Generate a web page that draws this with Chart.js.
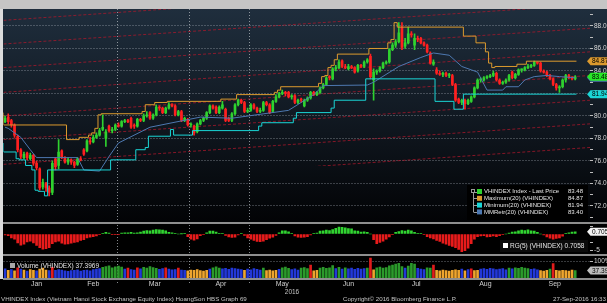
<!DOCTYPE html>
<html>
<head>
<meta charset="utf-8">
<title>VHINDEX</title>
<script src="https://cdn.jsdelivr.net/npm/chart.js@4.4.1/dist/chart.umd.min.js"></script>
<style>
  body { margin: 0; background: #000; }
  canvas { display: block; }
</style>
</head>
<body>
<canvas id="vhChart" width="607" height="303"></canvas>
<script>
// VHINDEX daily bars, 4 Jan - 27 Sep 2016 (trading days, index 0..181)
const opens = [
  79.5, 79.9, 79.6, 79.2, 78.2, 77.0, 76.3, 76.7, 76.2, 76.5,
  75.8, 75.3, 73.7, 74.0, 73.6, 73.2, 76.2, 75.6, 76.9, 76.3,
  75.9, 76.1, 75.9, 75.7, 76.2, 77.0, 76.9, 77.8, 77.7, 78.1,
  78.3, 78.8, 78.0, 79.1, 78.7, 78.8, 79.2, 79.1, 79.5, 79.6,
  79.8, 79.2, 79.1, 79.7, 79.6, 80.0, 80.3, 79.8, 80.1, 80.8,
  80.7, 80.3, 80.7, 81.0, 80.9, 80.1, 80.4, 79.6, 79.7, 79.2,
  79.1, 78.6, 79.3, 79.6, 79.8, 80.3, 80.9, 80.8, 80.3, 80.7,
  80.6, 79.8, 79.6, 80.2, 81.0, 81.4, 81.2, 80.4, 80.5, 81.0,
  80.7, 80.4, 80.5, 81.2, 81.0, 80.4, 81.3, 81.7, 82.0, 82.1,
  82.1, 81.7, 81.8, 81.2, 81.5, 80.9, 81.4, 81.6, 82.1, 81.9,
  82.1, 82.5, 82.8, 83.5, 83.3, 84.2, 84.3, 84.9, 84.4, 84.2,
  84.4, 84.3, 84.0, 84.5, 84.4, 84.8, 85.3, 83.2, 83.9, 84.0,
  84.3, 84.7, 84.8, 85.9, 86.3, 86.6, 87.9, 86.2, 86.5, 87.3,
  86.3, 86.9, 86.9, 86.5, 86.3, 85.6, 84.6, 84.1, 83.8, 83.7,
  83.8, 83.6, 83.6, 82.8, 81.5, 81.2, 81.4, 81.1, 81.3, 81.7,
  82.5, 83.2, 83.2, 83.4, 83.5, 83.6, 83.8, 83.2, 82.9, 83.0,
  83.2, 83.9, 83.4, 83.7, 84.1, 84.1, 84.3, 84.4, 84.5, 84.8,
  84.7, 84.0, 83.9, 83.6, 83.3, 82.8, 82.5, 82.6, 83.2, 83.6,
  83.4, 83.3
];
const highs = [
  80.0, 80.2, 79.7, 79.3, 78.3, 77.1, 76.8, 76.8, 76.7, 76.6,
  76.0, 75.4, 74.4, 74.1, 73.8, 76.0, 76.3, 77.9, 77.0, 76.4,
  76.3, 76.2, 76.0, 76.3, 76.4, 77.1, 77.9, 78.1, 78.3, 78.5,
  78.9, 80.1, 78.8, 79.2, 79.0, 79.3, 79.4, 79.6, 79.7, 79.7,
  79.9, 79.3, 79.8, 79.8, 80.2, 80.4, 80.4, 80.2, 81.0, 80.9,
  80.8, 80.8, 81.2, 81.1, 81.0, 80.5, 80.5, 79.9, 79.8, 79.4,
  79.2, 79.4, 79.7, 79.9, 80.4, 81.0, 81.0, 80.9, 80.9, 81.3,
  80.7, 79.9, 80.3, 81.1, 81.5, 81.5, 81.3, 80.7, 81.1, 81.1,
  80.8, 80.7, 81.3, 81.3, 81.1, 81.4, 81.9, 82.1, 82.3, 82.2,
  82.2, 81.9, 81.9, 81.5, 81.6, 81.5, 81.7, 82.2, 82.2, 82.2,
  82.6, 82.9, 83.5, 83.6, 84.3, 84.5, 85.0, 85.0, 84.6, 84.6,
  84.5, 84.4, 84.6, 84.6, 84.9, 85.1, 85.5, 84.2, 84.1, 84.4,
  84.8, 84.9, 86.0, 86.5, 86.8, 88.3, 88.3, 86.9, 87.9, 87.5,
  87.3, 87.1, 87.0, 86.6, 86.4, 85.7, 85.0, 84.3, 84.0, 83.9,
  83.9, 83.8, 83.7, 82.9, 81.6, 81.5, 81.5, 81.5, 81.8, 82.6,
  83.3, 83.4, 83.5, 83.6, 83.7, 84.0, 83.9, 83.3, 83.1, 83.3,
  83.7, 84.0, 83.8, 84.2, 84.2, 84.4, 84.6, 84.6, 84.87, 84.8,
  84.8, 84.1, 84.0, 83.7, 83.4, 82.9, 82.7, 83.3, 83.7, 83.7,
  83.5, 83.6
];
const lows = [
  79.4, 79.3, 79.0, 78.1, 76.8, 76.2, 76.2, 76.1, 76.1, 75.6,
  75.2, 73.4, 73.5, 73.3, 72.9, 73.0, 75.2, 75.3, 76.2, 75.8,
  75.7, 75.7, 75.4, 75.6, 76.0, 76.5, 76.8, 77.5, 77.6, 78.0,
  78.2, 78.7, 77.3, 78.6, 78.5, 78.7, 79.0, 79.0, 79.4, 79.4,
  78.9, 78.9, 79.0, 79.5, 79.5, 79.9, 79.7, 79.7, 80.0, 80.5,
  80.2, 80.2, 80.6, 80.8, 80.0, 80.0, 79.5, 79.5, 79.1, 79.0,
  78.3, 78.5, 79.2, 79.5, 79.7, 80.2, 80.6, 80.2, 80.2, 80.6,
  79.5, 79.5, 79.5, 80.1, 80.9, 81.1, 80.3, 80.3, 80.4, 80.6,
  80.3, 80.3, 80.4, 80.9, 80.2, 80.3, 81.2, 81.6, 81.9, 81.8,
  81.6, 81.5, 81.1, 81.1, 81.2, 80.8, 81.3, 81.5, 81.8, 81.8,
  82.0, 82.4, 82.7, 83.2, 83.2, 84.0, 84.2, 84.3, 84.2, 84.1,
  84.2, 83.8, 83.9, 84.3, 84.3, 84.7, 83.3, 81.4, 83.7, 83.9,
  84.2, 84.6, 84.7, 85.8, 86.1, 86.5, 85.9, 86.0, 86.4, 87.0,
  85.9, 86.6, 86.4, 86.2, 85.6, 84.6, 84.5, 83.7, 83.6, 83.5,
  83.5, 83.4, 82.7, 81.3, 81.1, 81.0, 80.6, 81.0, 81.2, 81.6,
  82.4, 83.0, 83.1, 83.3, 83.4, 83.5, 83.1, 82.8, 82.8, 82.9,
  83.1, 83.3, 83.3, 83.6, 83.9, 84.0, 84.2, 84.3, 84.4, 84.6,
  83.9, 83.8, 83.5, 83.2, 82.7, 82.3, 82.1, 82.5, 83.0, 83.3,
  83.2, 83.2
];
const closes = [
  79.8, 79.5, 79.2, 78.3, 77.0, 76.4, 76.6, 76.3, 76.5, 75.8,
  75.4, 73.6, 74.1, 73.6, 73.2, 75.8, 75.5, 76.8, 76.3, 75.9,
  76.1, 75.9, 75.6, 76.2, 76.1, 76.6, 77.8, 77.7, 78.1, 78.3,
  78.7, 79.0, 78.6, 78.7, 78.8, 79.2, 79.1, 79.5, 79.6, 79.5,
  79.0, 79.1, 79.7, 79.6, 80.0, 80.1, 79.8, 80.1, 80.8, 80.7,
  80.3, 80.7, 81.0, 80.9, 80.1, 80.4, 79.6, 79.8, 79.2, 79.2,
  78.5, 79.3, 79.6, 79.8, 80.3, 80.9, 80.7, 80.3, 80.8, 81.0,
  79.6, 79.6, 80.2, 81.0, 81.4, 81.2, 80.4, 80.5, 81.0, 80.7,
  80.4, 80.5, 81.2, 81.0, 80.3, 81.3, 81.7, 82.0, 82.1, 82.0,
  81.7, 81.8, 81.2, 81.4, 81.4, 81.4, 81.6, 82.1, 81.9, 82.1,
  82.5, 82.8, 83.4, 83.4, 84.2, 84.3, 84.8, 84.4, 84.3, 84.4,
  84.3, 83.9, 84.5, 84.4, 84.8, 85.0, 83.5, 83.9, 84.0, 84.3,
  84.7, 84.8, 85.9, 86.3, 86.6, 87.4, 86.1, 86.5, 87.3, 87.2,
  86.9, 86.8, 86.5, 86.3, 85.7, 84.7, 84.8, 83.8, 83.7, 83.8,
  83.6, 83.6, 82.8, 81.4, 81.2, 81.4, 81.1, 81.4, 81.7, 82.5,
  83.2, 83.2, 83.4, 83.5, 83.6, 83.8, 83.2, 82.9, 83.0, 83.2,
  83.6, 83.4, 83.7, 84.1, 84.1, 84.3, 84.4, 84.5, 84.8, 84.7,
  84.0, 83.9, 83.6, 83.3, 82.8, 82.5, 82.6, 83.2, 83.6, 83.4,
  83.3, 83.48
];

// Maximum(20) and Minimum(20): [day the level starts, level]
const max20 = [
  [0, 80.3], [20, 79.2], [24, 77.9], [27, 78.1], [28, 78.3], [29, 78.5], [30, 78.9],
  [31, 80.1], [44, 80.2], [45, 80.4], [48, 81.0], [52, 81.2], [69, 81.3], [74, 81.5],
  [86, 81.9], [87, 82.1], [88, 82.3], [100, 82.6], [101, 82.9], [102, 83.5], [103, 83.6],
  [104, 84.3], [105, 84.5], [106, 85.0], [116, 85.5], [122, 86.0], [123, 86.5], [124, 86.8],
  [125, 88.3], [146, 87.9], [150, 87.1], [153, 86.5], [154, 85.7], [155, 84.7], [156, 84.3],
  [163, 84.4], [166, 84.6], [168, 84.87]
];
const min20 = [
  [0, 77.6], [4, 76.8], [5, 76.2], [7, 76.1], [9, 75.6], [10, 75.2], [11, 73.4], [13, 73.3],
  [14, 72.9], [34, 75.2], [42, 76.1], [45, 77.0], [46, 77.2], [53, 78.2], [54, 78.8],
  [60, 78.3], [81, 78.7], [82, 79.1], [92, 79.4], [93, 79.8], [104, 80.3], [105, 80.7],
  [115, 81.4], [137, 83.3], [143, 81.3], [146, 80.6], [166, 81.94]
];
// MMRetr(20): [day, value]
const mmRetr20 = [
  [0, 79.0], [1, 78.9], [5, 78.1], [8, 77.0], [10, 76.3], [23, 76.3], [25, 75.2], [30, 75.1],
  [33, 76.4], [36, 77.6], [46, 79.0], [62, 79.9], [72, 79.8], [90, 80.5], [94, 81.2],
  [98, 81.9], [101, 82.7], [115, 82.75], [117, 83.0], [125, 84.4], [132, 85.2], [136, 85.6],
  [141, 85.4], [145, 84.4], [148, 84.1], [150, 83.9], [153, 82.3], [158, 82.3], [159, 82.6],
  [163, 82.6], [165, 83.2], [168, 83.5], [172, 83.6], [176, 83.5], [181, 83.4]
];

// red trend channel lines, level at left and right edge of the plot
const trendStart = [92.8, 90.7, 88.5, 86.4, 84.3, 82.1, 80.0, 77.9, 75.7, 73.6, 71.5, 69.3];
const trendEnd = [96.4, 94.2, 92.1, 89.9, 87.8, 85.7, 83.6, 81.4, 79.3, 77.2, 75.0, 72.9];

// RG(5) oscillator
const rg5 = [
  -0.3, -0.5, -1.2, -1.6, -2.8, -3.5, -3.2, -2.5, -2.2, -2.8,
  -3.6, -4.3, -4.7, -4.6, -4.3, -3.0, -2.5, -2.2, -2.9, -3.2,
  -3.1, -2.9, -2.6, -2.5, -2.0, -1.8, -1.2, -1.0, -0.8, -0.6,
  -0.1, 0.1, 0.5, 0.3, -0.2, -0.2, -0.1, 0.3, 0.4, 0.4,
  0.5, 0.3, 0.4, 0.6, 0.9, 1.1, 1.0, 1.2, 1.4, 1.3,
  1.2, 1.0, 0.5, 0.4, 0.1, 0.0, 0.05, 0.1, -0.8, -1.6,
  -1.9, -1.5, -0.5, -0.2, 0.4, 0.9, 0.9, 0.6, 0.2, 0.1,
  -0.4, -0.9, -1.1, -1.0, -0.3, 0.1, -0.4, -1.2, -1.6, -2.0,
  -2.3, -2.4, -2.2, -1.8, -1.3, -1.0, -0.4, 0.4, 1.0, 1.0,
  0.7, 0.2, -0.6, -1.0, -1.1, -1.0, -0.8, -0.3, 0.1, 0.3,
  0.9, 1.0, 1.2, 1.1, 1.4, 1.8, 2.2, 2.1, 1.9, 1.7,
  1.6, 1.0, 0.9, 0.6, 0.7, 0.5, 0.0, -1.8, -3.0, -2.6,
  -2.2, -1.6, -0.9, -0.2, 0.5, 0.8, 1.1, 0.9, 1.2, 1.0,
  0.5, 0.1, 0.1, -0.1, -0.8, -1.2, -1.5, -2.0, -2.3, -2.9,
  -3.2, -3.6, -3.9, -4.3, -4.8, -5.5, -5.2, -4.4, -3.0, -1.6,
  -0.8, -0.6, -0.5, -0.9, -0.8, -0.6, -0.8, -0.5, -0.1, 0.0,
  0.3, 0.6, 0.7, 1.0, 1.2, 1.1, 1.3, 1.0, 0.9, 0.5,
  0.0, -0.3, -0.9, -1.3, -1.6, -1.4, -1.2, -0.7, 0.2, 0.4,
  0.6, 0.7058
];

// Volume (millions) and bar tone: b blue, o orange, g green, r red
const volumes = [
  45, 38, 42, 36, 50, 44, 40, 35, 42, 38,
  36, 44, 48, 40, 37, 52, 38, 42, 40, 36,
  34, 37, 39, 41, 35, 38, 40, 36, 42, 44,
  46, 52, 55, 58, 50, 54, 57, 53, 44, 48,
  42, 40, 50, 45, 52, 49, 55, 51, 47, 43,
  46, 50, 44, 41, 42, 49, 40, 38, 36, 40,
  38, 42, 37, 35, 39, 44, 50, 54, 48, 45,
  47, 43, 49, 46, 44, 42, 38, 44, 41, 46,
  43, 40, 48, 37, 40, 36, 39, 43, 50, 53,
  47, 42, 45, 40, 48, 51, 46, 62, 36, 38,
  49, 52, 47, 50, 60, 46, 52, 44, 50, 45,
  48, 43, 47, 44, 46, 49, 93, 41, 50, 53,
  48, 51, 58, 62, 66, 70, 55, 48, 57, 70,
  66, 47, 44, 42, 50, 48, 62, 38, 36, 40,
  37, 35, 39, 41, 38, 44, 36, 42, 45, 37,
  39, 44, 46, 43, 47, 45, 42, 44, 46, 41,
  48, 45, 50, 47, 52, 49, 46, 43, 45, 41,
  37, 35, 38, 44, 68, 38, 36, 39, 37, 35,
  40, 37.3969
];
const volumeTone = ('boborb oboobooob r bbbbbbbbbbbbbbb ggggggg brbbrb ggggg bbrbb brbb ooooooo b ggg ' +
  'bbbbbbb o bbbbb g oooo b ggg bbb ggg r oo gggg g bgbg bbbbbb g r o gggg gggg gbg gg bbb gg r ' +
  'ooooooo obob roo bbbbbbbbb gb ggggg bbb ooo g r oooooo g').replace(/ /g, '').split('');

// axis ticks
const monthTicks = [10, 28, 47.5, 68.5, 88, 109, 130.5, 152.5, 174.5];
const monthLabels = ['Jan', 'Feb', 'Mar', 'Apr', 'May', 'Jun', 'Jul', 'Aug', 'Sep'];
const monthEdges = [35.5, 58.5, 77.5];
const priceTicks = [72, 74, 76, 78, 80, 82, 84, 86, 88];
const priceMinorTicks = [71, 73, 75, 77, 79, 81, 83, 85, 87, 89];
const rgTicks = [2.5, 0, -2.5, -5];
const volumeTicks = [0, 80]; // 80 = the 100% line

const FONT = "'Liberation Sans', Arial, sans-serif";
const UP = '#2fd22f', DOWN = '#ff2020';
const TONES = {b: '#2238d8', o: '#eea52e', g: '#2b9a2b', r: '#e11c1c'};
const ORANGE = '#dc9a2e', CYAN = '#1ad6d6', STEEL = '#4d78b0';
const last = closes.length - 1;
const days = closes.map((c, i) => i);
const lastOf = steps => steps[steps.length - 1][1];

function stepPoints(steps) {
  const pts = steps.map(s => ({x: s[0] - 0.5, y: s[1]}));
  pts.push({x: last + 0.4, y: lastOf(steps)});
  return pts;
}

const trendSets = trendStart.map((v, k) => ({
  type: 'line',
  yAxisID: 'y',
  data: [{x: -0.5, y: v}, {x: 185.7, y: trendEnd[k]}],
  borderColor: 'rgba(175,24,44,0.75)',
  borderWidth: 1,
  borderDash: [3, 2],
  pointRadius: 0,
  order: 10,
  clip: {left: 0, top: 0, right: 0, bottom: -56.5}
}));

function tag(ctx, y, fill, text) {
  ctx.fillStyle = fill;
  ctx.beginPath();
  ctx.moveTo(587, y);
  ctx.lineTo(590.5, y - 4);
  ctx.lineTo(607, y - 4);
  ctx.lineTo(607, y + 4);
  ctx.lineTo(590.5, y + 4);
  ctx.closePath();
  ctx.fill();
  ctx.fillStyle = '#000';
  ctx.font = '6.5px ' + FONT;
  ctx.textAlign = 'left';
  ctx.textBaseline = 'middle';
  ctx.fillText(text, 592, y + 0.5);
}

const frame = {
  id: 'frame',
  beforeDraw(chart) {
    const {ctx, width, height} = chart;
    const y = chart.scales.y;
    ctx.save();
    ctx.fillStyle = '#000';
    ctx.fillRect(0, 0, width, height);
    const g = ctx.createLinearGradient(0, y.top, 0, y.bottom);
    g.addColorStop(0, '#1f2e3d');
    g.addColorStop(0.5, '#111922');
    g.addColorStop(1, '#020305');
    ctx.fillStyle = g;
    ctx.fillRect(3, y.top, width - 3, y.bottom - y.top);
    ctx.fillStyle = '#c5c5c5';
    ctx.fillRect(0, 0, width, y.top);
    ctx.fillStyle = '#dcdcdc';
    ctx.fillRect(0, y.top, 3, chart.scales.yVol.bottom - y.top);
    ctx.restore();
  },
  beforeDatasetsDraw(chart) {
    const {ctx} = chart;
    const x = chart.scales.x;
    ctx.save();
    ctx.strokeStyle = 'rgba(190,195,200,0.7)';
    ctx.setLineDash([1, 2]);
    ctx.lineWidth = 1;
    monthEdges.forEach(d => {
      const px = Math.round(x.getPixelForValue(d)) + 0.5;
      ctx.beginPath();
      ctx.moveTo(px, chart.chartArea.top);
      ctx.lineTo(px, 283);
      ctx.stroke();
    });
    ctx.restore();
  },
  afterDatasetsDraw(chart) {
    const {ctx, width} = chart;
    const s = chart.scales;
    ctx.save();
    ctx.fillStyle = '#8e8e8e';
    [s.yOsc.top, s.yVol.top, s.yVol.bottom].forEach(t => {
      ctx.fillRect(3, Math.round(t) - 1, width - 3, 2);
    });
    ctx.restore();
  },
  afterDraw(chart) {
    const {ctx} = chart;
    const s = chart.scales;
    ctx.save();

    // value tags on the right axis
    tag(ctx, s.y.getPixelForValue(lastOf(mmRetr20)), STEEL, lastOf(mmRetr20).toFixed(2));
    tag(ctx, s.y.getPixelForValue(closes[last]), '#27e827', closes[last].toFixed(2));
    tag(ctx, s.y.getPixelForValue(lastOf(max20)), ORANGE, lastOf(max20).toFixed(2));
    tag(ctx, s.y.getPixelForValue(lastOf(min20)), CYAN, lastOf(min20).toFixed(2));
    tag(ctx, s.yOsc.getPixelForValue(rg5[last]), '#f2f2f2', rg5[last].toFixed(4));
    tag(ctx, s.yVol.getPixelForValue(volumes[last]), '#bdbdbd', volumes[last].toFixed(4));

    // main legend
    ctx.fillStyle = '#000';
    ctx.fillRect(467, 185, 121, 35);
    const rows = [
      [UP, 'VHINDEX Index - Last Price', closes[last]],
      [ORANGE, 'Maximum(20) (VHINDEX)', lastOf(max20)],
      [CYAN, 'Minimum(20) (VHINDEX)', lastOf(min20)],
      [STEEL, 'MMRetr(20) (VHINDEX)', lastOf(mmRetr20)]
    ];
    ctx.font = '6px ' + FONT;
    ctx.textBaseline = 'middle';
    ctx.strokeStyle = '#9a9a9a';
    ctx.lineWidth = 1;
    ctx.strokeRect(471.5, 189.5, 3, 3);
    ctx.beginPath();
    ctx.moveTo(473.5, 193);
    ctx.lineTo(473.5, 212);
    ctx.stroke();
    rows.forEach((r, k) => {
      const yy = 191.5 + k * 6.8;
      ctx.strokeStyle = '#9a9a9a';
      ctx.beginPath();
      ctx.moveTo(473.5, Math.round(yy) + 0.5);
      ctx.lineTo(477, Math.round(yy) + 0.5);
      ctx.stroke();
      ctx.fillStyle = r[0];
      ctx.fillRect(477, yy - 2.5, 5, 5);
      ctx.fillStyle = '#e6e6e6';
      ctx.textAlign = 'left';
      ctx.fillText(r[1], 484, yy);
      ctx.textAlign = 'right';
      ctx.fillText(r[2].toFixed(2), 583, yy);
    });

    // RG(5) legend
    ctx.font = '6.5px ' + FONT;
    ctx.fillStyle = '#0b0b0b';
    ctx.fillRect(500, 240, 88, 12);
    ctx.fillStyle = '#ffffff';
    ctx.fillRect(503, 243, 5, 5);
    ctx.fillStyle = '#e6e6e6';
    ctx.textAlign = 'left';
    ctx.fillText('RG(5) (VHINDEX) ' + rg5[last].toFixed(4), 510, 246);

    // volume legend
    ctx.fillStyle = '#a8a8a8';
    ctx.fillRect(10, 263, 5, 5);
    ctx.fillStyle = '#e6e6e6';
    ctx.fillText('Volume (VHINDEX) ' + volumes[last].toFixed(4), 17, 266);

    // footer
    ctx.fillStyle = '#c4c4c4';
    ctx.font = '6.5px ' + FONT;
    ctx.textAlign = 'center';
    ctx.fillText('2016', 292, 292);
    ctx.font = '6.2px ' + FONT;
    ctx.textAlign = 'left';
    ctx.fillText('VHINDEX Index (Vietnam Hanoi Stock Exchange Equity Index) HoangSon HBS Graph 69', 1, 299);
    ctx.fillText('Copyright\u00a9 2016 Bloomberg Finance L.P.', 343, 299);
    ctx.textAlign = 'right';
    ctx.fillText('27-Sep-2016 16:33', 606, 299);
    ctx.restore();
  }
};

const ctx = document.getElementById('vhChart');
const vhChart = new Chart(ctx, {
  type: 'bar',
  data: {
    datasets: [
      {
        type: 'line', yAxisID: 'y', label: 'Maximum(20)',
        data: stepPoints(max20), stepped: 'after',
        borderColor: ORANGE, borderWidth: 1, pointRadius: 0, order: 1
      },
      {
        type: 'line', yAxisID: 'y', label: 'Minimum(20)',
        data: stepPoints(min20), stepped: 'after',
        borderColor: CYAN, borderWidth: 1, pointRadius: 0, order: 1
      },
      {
        type: 'line', yAxisID: 'y', label: 'MMRetr(20)',
        data: mmRetr20.map(p => ({x: p[0], y: p[1]})),
        borderColor: STEEL, borderWidth: 1, pointRadius: 0, tension: 0, order: 2
      },
      {
        label: 'body', yAxisID: 'y',
        data: days.map(i => ({x: i, y: [opens[i], closes[i]]})),
        backgroundColor: c => closes[c.dataIndex] >= opens[c.dataIndex] ? UP : DOWN,
        barThickness: 2, minBarLength: 1, grouped: false, order: 3
      },
      {
        label: 'wick', yAxisID: 'y',
        data: days.map(i => ({x: i, y: [lows[i], highs[i]]})),
        backgroundColor: c => closes[c.dataIndex] >= opens[c.dataIndex] ? UP : DOWN,
        barThickness: 1, grouped: false, order: 4
      },
      {
        label: 'RG(5)', yAxisID: 'yOsc',
        data: days.map(i => ({x: i, y: rg5[i]})),
        backgroundColor: c => rg5[c.dataIndex] >= 0 ? '#31d431' : '#e81b1b',
        barThickness: 2, grouped: false, order: 3
      },
      {
        label: 'Volume', yAxisID: 'yVol',
        data: days.map(i => ({x: i, y: volumes[i]})),
        backgroundColor: c => TONES[volumeTone[c.dataIndex]],
        barThickness: 2, grouped: false, order: 3
      },
      ...trendSets
    ]
  },
  options: {
    responsive: false,
    animation: false,
    events: [],
    layout: {padding: {top: 9, left: 3.5, right: 0, bottom: 0}},
    plugins: {legend: {display: false}, tooltip: {enabled: false}},
    scales: {
      x: {
        type: 'linear', position: 'bottom', min: -0.5, max: 185.7, offset: false,
        afterBuildTicks: sc => { sc.ticks = monthTicks.map(v => ({value: v})); },
        afterFit: sc => { sc.height = 24; },
        ticks: {
          callback: (v, i) => monthLabels[i],
          autoSkip: false, maxRotation: 0, padding: 1,
          color: '#cfcfcf', font: {family: FONT, size: 7}
        },
        grid: {display: false, drawTicks: false},
        border: {display: false}
      },
      y: {
        position: 'right', stack: 'panes', stackWeight: 213.5,
        min: 70.53, max: 89.51,
        afterBuildTicks: sc => {
          sc.ticks = priceMinorTicks.concat(priceTicks).sort((a, b) => a - b).map(v => ({value: v}));
        },
        afterFit: sc => { sc.width = 17; },
        ticks: {
          callback: v => priceTicks.includes(v) ? v.toFixed(2) : '',
          autoSkip: false, padding: 1, color: '#d6d6d6', font: {family: FONT, size: 6.5}
        },
        grid: {
          color: c => (c.tick && priceTicks.includes(c.tick.value)) ? 'rgba(185,192,200,0.6)' : 'rgba(0,0,0,0)',
          tickColor: '#bdbdbd', tickLength: 3, drawTicks: true
        },
        border: {display: false, dash: [1, 2]}
      },
      yOsc: {
        position: 'right', stack: 'panes', stackWeight: 32.5,
        min: -6.56, max: 3.6,
        afterBuildTicks: sc => { sc.ticks = rgTicks.map(v => ({value: v})); },
        afterFit: sc => { sc.width = 17; },
        ticks: {
          callback: v => v === -5 ? '-5' : '',
          autoSkip: false, padding: 1, color: '#d6d6d6', font: {family: FONT, size: 6.5}
        },
        grid: {drawOnChartArea: false, tickColor: '#bdbdbd', tickLength: 3},
        border: {display: false}
      },
      yVol: {
        position: 'right', stack: 'panes', stackWeight: 24,
        min: 0, max: 106.7,
        afterBuildTicks: sc => { sc.ticks = volumeTicks.map(v => ({value: v})); },
        afterFit: sc => { sc.width = 17; },
        ticks: {
          callback: v => v === 80 ? '100%' : '',
          autoSkip: false, padding: 1, color: '#d6d6d6', font: {family: FONT, size: 6.5}
        },
        grid: {
          color: c => (c.tick && c.tick.value === 80) ? 'rgba(185,192,200,0.6)' : 'rgba(0,0,0,0)',
          tickColor: '#bdbdbd', tickLength: 3
        },
        border: {display: false, dash: [1, 2]}
      }
    }
  },
  plugins: [frame]
});
</script>
</body>
</html>
